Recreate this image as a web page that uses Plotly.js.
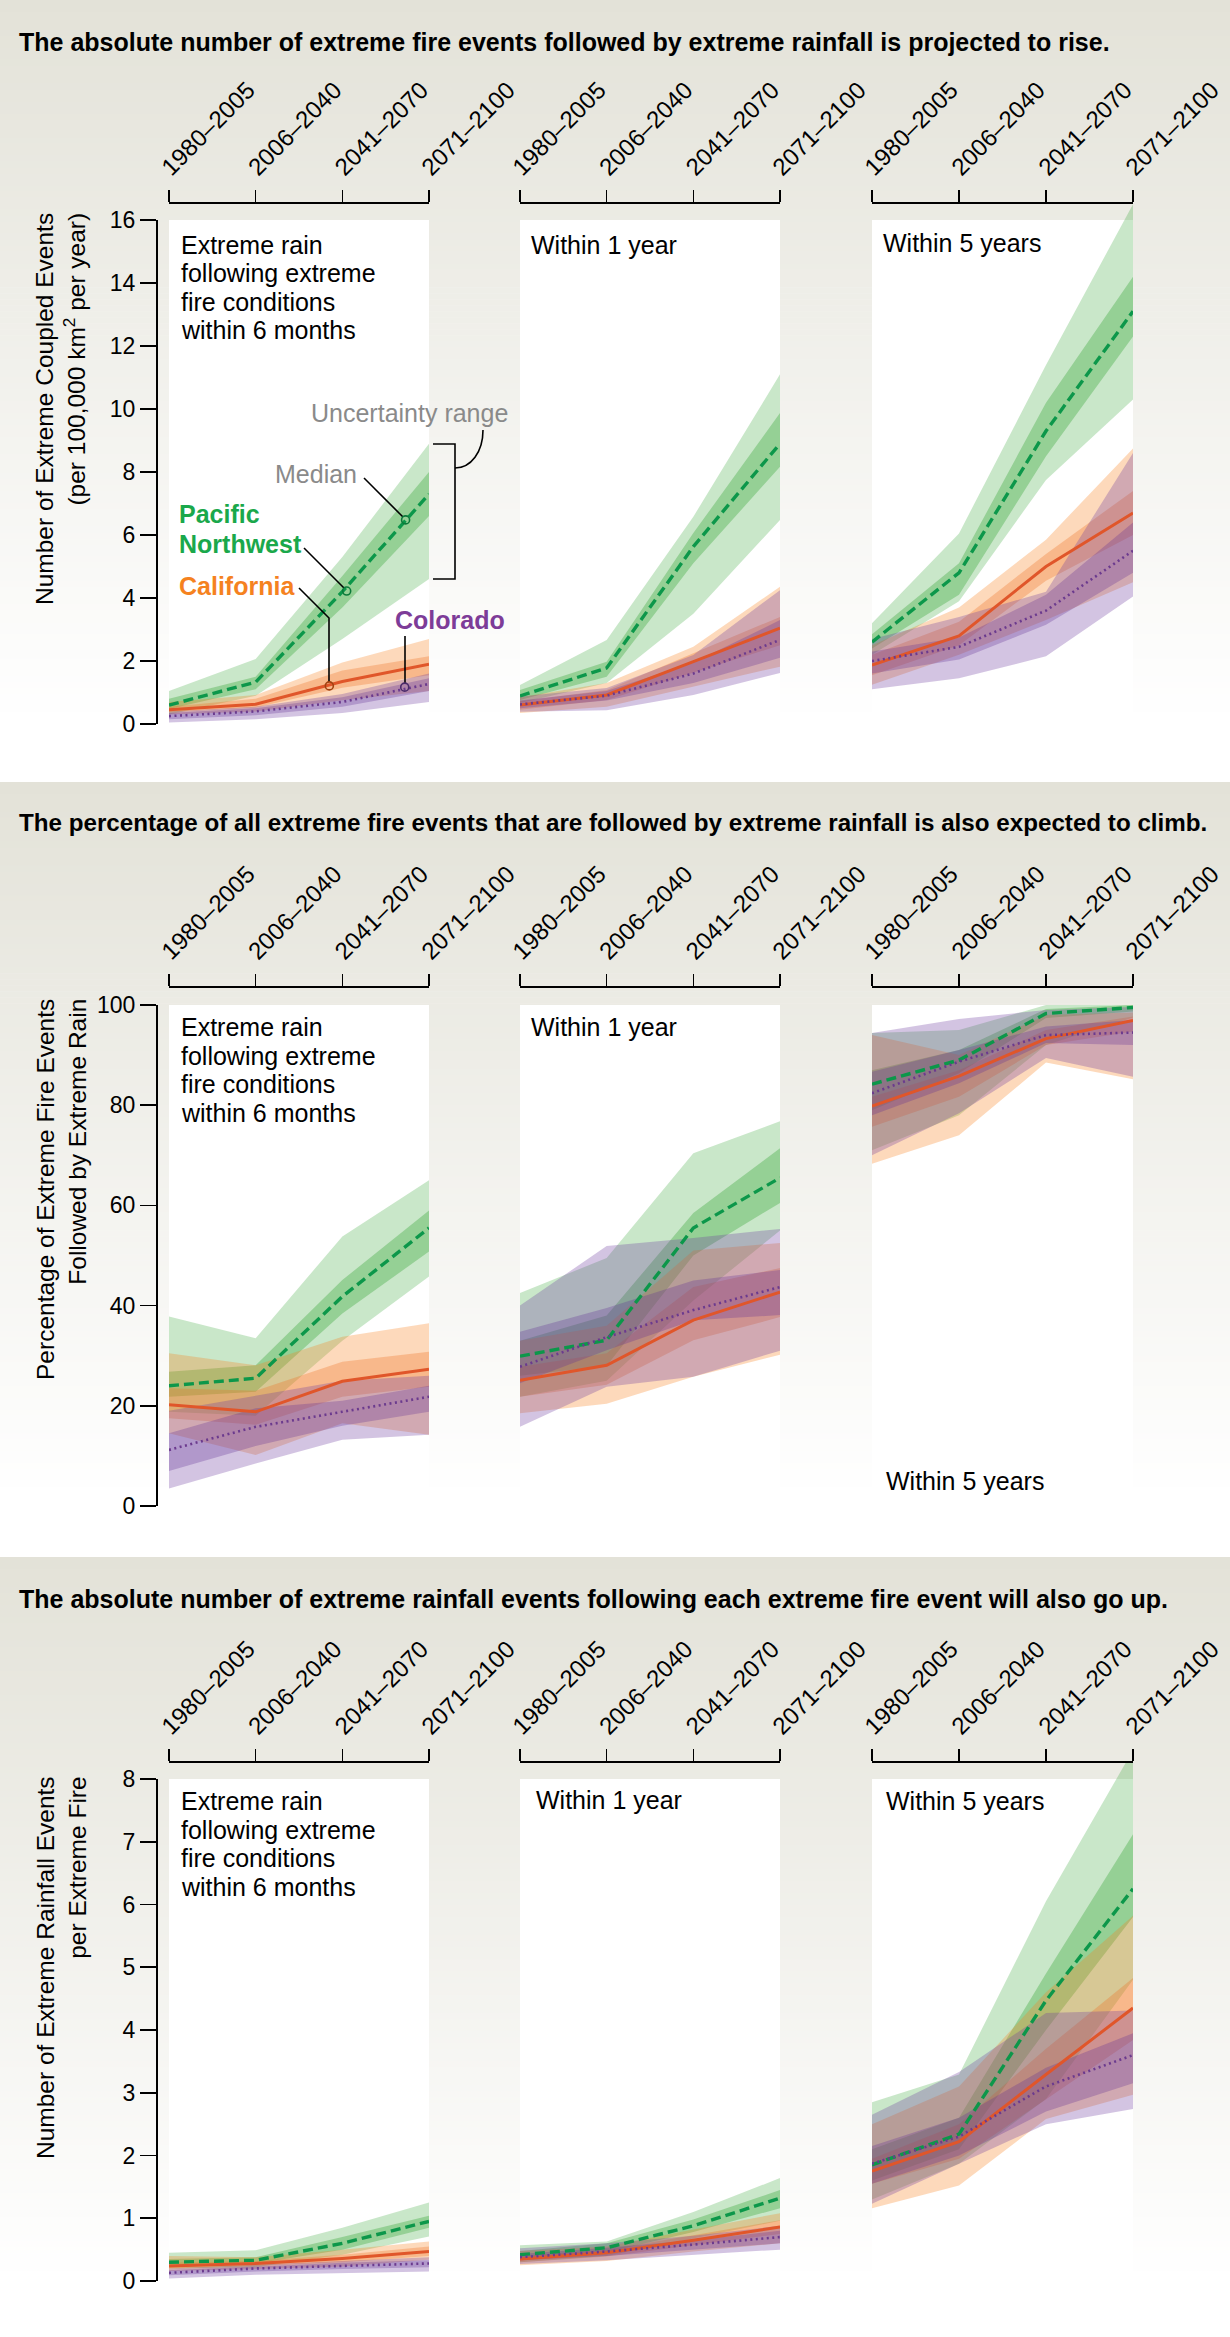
<!DOCTYPE html>
<html><head><meta charset="utf-8">
<script src="https://cdn.plot.ly/plotly-3.0.1.min.js"></script>
<style>html,body{margin:0;padding:0;background:#fff}</style>
</head><body>
<div id="chart" style="width:1230px;height:2337px"></div>
<script>
// ---------------- DATA ----------------
const periods = ['1980–2005', '2006–2040', '2041–2070', '2071–2100'];
const regions = ['pnw', 'ca', 'co'];
const regionNames = {pnw: 'Pacific<br>Northwest', ca: 'California', co: 'Colorado'};
const windows = ['m6', 'y1', 'y5'];
const windowLabels = {
  m6: ['Extreme rain', 'following extreme', 'fire conditions', 'within 6 months'],
  y1: ['Within 1 year'],
  y5: ['Within 5 years']
};
const sectionTitles = [
  'The absolute number of extreme fire events followed by extreme rainfall is projected to rise.',
  'The percentage of all extreme fire events that are followed by extreme rainfall is also expected to climb.',
  'The absolute number of extreme rainfall events following each extreme fire event will also go up.'
];
const yTitles = [
  'Number of Extreme Coupled Events<br>(per 100,000 km<sup>2</sup> per year)',
  'Percentage of Extreme Fire Events<br>Followed by Extreme Rain',
  'Number of Extreme Rainfall Events<br>per Extreme Fire'
];
const yRanges = [[0, 16], [0, 100], [0, 8]];
const yDticks = [2, 20, 1];

// Section 1: coupled events per 100,000 km2 per year (median, inner band, outer band)
const cpl_m6_pnw = {med:[0.6,1.33,4.2,7.3],  inLo:[0.48,1.1,3.7,6.6],  inHi:[0.8,1.5,4.7,8.0],  outLo:[0.3,0.9,2.7,4.6],   outHi:[1.05,2.06,5.3,8.9]};
const cpl_m6_ca  = {med:[0.45,0.63,1.35,1.9], inLo:[0.38,0.52,1.15,1.55], inHi:[0.55,0.8,1.7,2.15], outLo:[0.3,0.4,0.75,1.05], outHi:[0.7,0.92,1.95,2.7]};
const cpl_m6_co  = {med:[0.25,0.4,0.7,1.27], inLo:[0.15,0.28,0.55,1.05], inHi:[0.35,0.5,0.85,1.45], outLo:[0.05,0.15,0.35,0.7], outHi:[0.4,0.55,0.95,1.6]};
const cpl_y1_pnw = {med:[0.89,1.78,5.63,8.9], inLo:[0.76,1.5,5.1,8.17], inHi:[1.08,1.98,6.06,9.87], outLo:[0.67,1.3,3.5,6.48], outHi:[1.24,2.67,6.58,11.1]};
const cpl_y1_ca  = {med:[0.6,0.92,1.98,3.04], inLo:[0.45,0.76,1.62,2.5], inHi:[0.72,1.08,2.25,3.4], outLo:[0.35,0.55,1.18,1.82], outHi:[0.85,1.3,2.45,4.36]};
const cpl_y1_co  = {med:[0.62,0.9,1.6,2.67], inLo:[0.5,0.75,1.3,2.1], inHi:[0.75,1.05,1.95,3.3], outLo:[0.39,0.44,0.92,1.62], outHi:[0.87,1.14,2.19,4.25]};
const cpl_y5_pnw = {med:[2.6,4.8,9.3,13.1], inLo:[2.4,4.1,8.5,12.3], inHi:[2.85,5.1,10.2,14.2], outLo:[2.2,3.9,7.75,10.3], outHi:[3.2,6.05,11.4,16.5]};
const cpl_y5_ca  = {med:[1.87,2.8,5.0,6.7], inLo:[1.55,2.5,4.55,6.0], inHi:[2.2,3.25,5.4,7.4], outLo:[1.25,2.2,3.3,4.5], outHi:[2.5,3.7,5.85,8.75]};
const cpl_y5_co  = {med:[2.0,2.45,3.6,5.5], inLo:[1.6,2.05,3.15,4.8], inHi:[2.3,2.75,4.1,6.4], outLo:[1.1,1.45,2.15,4.05], outHi:[2.7,3.4,4.2,8.6]};

// Section 2: percentage of extreme fire events followed by extreme rain
const pct_m6_pnw = {med:[24,25.5,41.8,55.5], inLo:[21.8,22.8,38.4,50.8], inHi:[26.8,28.1,45.1,59], outLo:[18.8,18,33,45.8], outHi:[37.8,33.5,53.8,65]};
const pct_m6_ca  = {med:[20.2,18.8,24.9,27.3], inLo:[17.5,16.2,21.8,23.8], inHi:[23.5,23,28.8,30.8], outLo:[14.5,10.2,16.5,14.2], outHi:[30.5,28.1,33.8,36.5]};
const pct_m6_co  = {med:[11.2,15.8,18.8,21.8], inLo:[7,12,16,18.8], inHi:[14.5,19.5,21,24], outLo:[3.5,8.5,13.2,14.2], outHi:[19,22,25,26]};
const pct_y1_pnw = {med:[29.9,33.1,55.5,65.5], inLo:[26,28,50,60.5], inHi:[33,38,58.5,71.4], outLo:[21.8,25,41,55], outHi:[42.5,49.5,70.4,76.8]};
const pct_y1_ca  = {med:[25.1,28.1,37.1,42.7], inLo:[21.8,24.2,33.1,37.7], inHi:[27.8,30.5,43.7,47.5], outLo:[18.5,20.4,25.8,30.2], outHi:[33,36,51,52.5]};
const pct_y1_co  = {med:[27.8,33.7,39.1,43.7], inLo:[24.5,31.1,37.1,38.1], inHi:[34.8,39.5,45,47.1], outLo:[15.8,23.8,25.8,31], outHi:[40,51.9,53.5,55.3]};
const pct_y5_pnw = {med:[84.2,89,98.3,99.5], inLo:[79,86.4,97.4,98.7], inHi:[87,91,99.2,100], outLo:[71,78,92,97.5], outHi:[94.4,95,100,100]};
const pct_y5_ca  = {med:[79.8,85.8,93.3,96.9], inLo:[75.7,81.7,92,94.7], inHi:[81.7,87,95,97.7], outLo:[68.3,74,88.5,85.2], outHi:[94,90,98,98.5]};
const pct_y5_co  = {med:[82.4,88.7,94,94.5], inLo:[78,84.4,92.4,92], inHi:[86.7,91,95.7,97], outLo:[70,78.4,89.4,85.7], outHi:[94.4,97.2,99,99.6]};

// Section 3: extreme rainfall events per extreme fire
const per_m6_pnw = {med:[0.3,0.33,0.6,0.95], inLo:[0.24,0.28,0.5,0.85], inHi:[0.35,0.38,0.7,1.04], outLo:[0.2,0.22,0.42,0.71], outHi:[0.45,0.49,0.85,1.25]};
const per_m6_ca  = {med:[0.24,0.28,0.36,0.47], inLo:[0.2,0.24,0.3,0.4], inHi:[0.29,0.32,0.42,0.55], outLo:[0.16,0.19,0.23,0.34], outHi:[0.4,0.38,0.5,0.63]};
const per_m6_co  = {med:[0.13,0.2,0.24,0.28], inLo:[0.09,0.15,0.19,0.22], inHi:[0.17,0.23,0.29,0.33], outLo:[0.04,0.1,0.12,0.15], outHi:[0.2,0.26,0.32,0.38]};
const per_y1_pnw = {med:[0.42,0.53,0.88,1.32], inLo:[0.36,0.46,0.78,1.16], inHi:[0.48,0.6,0.98,1.45], outLo:[0.3,0.4,0.68,0.96], outHi:[0.57,0.63,1.1,1.64]};
const per_y1_ca  = {med:[0.35,0.45,0.65,0.86], inLo:[0.3,0.39,0.57,0.75], inHi:[0.4,0.5,0.73,0.97], outLo:[0.25,0.32,0.47,0.6], outHi:[0.48,0.55,0.82,1.08]};
const per_y1_co  = {med:[0.38,0.47,0.58,0.7], inLo:[0.33,0.4,0.5,0.6], inHi:[0.43,0.53,0.65,0.8], outLo:[0.27,0.33,0.42,0.5], outHi:[0.52,0.6,0.72,0.88]};
const per_y5_pnw = {med:[1.85,2.34,4.47,6.25], inLo:[1.6,2.1,4.0,5.8], inHi:[2.1,2.6,4.9,7.12], outLo:[1.3,1.87,2.9,4.8], outHi:[2.85,3.29,6.05,8.46]};
const per_y5_ca  = {med:[1.75,2.22,3.29,4.35], inLo:[1.55,1.95,2.9,3.84], inHi:[1.95,2.5,3.7,4.83], outLo:[1.16,1.52,2.58,2.97], outHi:[2.5,3.1,4.6,5.82]};
const per_y5_co  = {med:[1.87,2.3,3.1,3.6], inLo:[1.55,2.0,2.7,3.15], inHi:[2.15,2.6,3.4,3.95], outLo:[1.23,1.87,2.5,2.74], outHi:[2.65,3.33,4.27,4.31]};

// Callout anchor points on the top-left panel (category index, value)
const calloutPoints = {median: [2.73, 6.48], pnw: [2.05, 4.22], ca: [1.85, 1.21], co: [2.72, 1.17]};

const DATA = [
  {m6:{pnw:cpl_m6_pnw, ca:cpl_m6_ca, co:cpl_m6_co}, y1:{pnw:cpl_y1_pnw, ca:cpl_y1_ca, co:cpl_y1_co}, y5:{pnw:cpl_y5_pnw, ca:cpl_y5_ca, co:cpl_y5_co}},
  {m6:{pnw:pct_m6_pnw, ca:pct_m6_ca, co:pct_m6_co}, y1:{pnw:pct_y1_pnw, ca:pct_y1_ca, co:pct_y1_co}, y5:{pnw:pct_y5_pnw, ca:pct_y5_ca, co:pct_y5_co}},
  {m6:{pnw:per_m6_pnw, ca:per_m6_ca, co:per_m6_co}, y1:{pnw:per_y1_pnw, ca:per_y1_ca, co:per_y1_co}, y5:{pnw:per_y5_pnw, ca:per_y5_ca, co:per_y5_co}}
];

// ---------------- LAYOUT / STYLE ----------------
const W = 1230, H = 2337;
const FONT = 'Liberation Sans, Arial, Helvetica, sans-serif';
const fx = px => px / W;
const fy = py => 1 - py / H;
const P = (px, py) => fx(px) + ',' + fy(py);

const sec = [
  {titleY: 42,   titleSize: 25,   bandTop: 0,    bandBot: 778,  axisY: 202,  top: 220,  bottom: 724,  ytY: 409,  ytX: 61},
  {titleY: 823,  titleSize: 24.2, bandTop: 782,  bandBot: 1553, axisY: 986,  top: 1005, bottom: 1506, ytY: 1190, ytX: 61},
  {titleY: 1599, titleSize: 25,   bandTop: 1557, bandBot: 2337, axisY: 1761, top: 1779, bottom: 2281, ytY: 1968, ytX: 61}
];
const panelX = [[169, 429], [520, 780], [872, 1133]];
const yAxisX = 156;
const panelTextPos = [
  [{x: 179, ys: [245, 273, 302, 330]}, {x: 529, ys: [245]}, {x: 881, ys: [243]}],
  [{x: 179, ys: [1027, 1056, 1084, 1113]}, {x: 529, ys: [1027]}, {x: 884, ys: [1481]}],
  [{x: 179, ys: [1801, 1830, 1858, 1887]}, {x: 534, ys: [1800]}, {x: 884, ys: [1801]}]
];

const style = {
  pnw: {outer: 'rgba(40,160,40,0.25)', inner: 'rgba(40,160,40,0.32)', line: '#0c974a', dash: '10px,5px', width: 3.4, label: '#1aa84b'},
  ca:  {outer: 'rgba(250,130,30,0.3)', inner: 'rgba(240,110,30,0.3)', line: '#e0562a', dash: 'solid', width: 3, label: '#f5821f'},
  co:  {outer: 'rgba(110,60,160,0.3)', inner: 'rgba(100,50,150,0.3)', line: '#6b3a8e', dash: '2px,3.5px', width: 2.6, label: '#7d3c98'}
};

const traces = [];
const layout = {
  width: W, height: H,
  margin: {l: 0, r: 0, t: 0, b: 0},
  paper_bgcolor: '#ffffff',
  plot_bgcolor: 'rgba(0,0,0,0)',
  showlegend: false,
  font: {family: FONT, color: '#000'},
  shapes: [],
  annotations: []
};

// background gradient bands
const c0 = [227, 226, 216];
sec.forEach(s => {
  const h = s.bandBot - s.bandTop;
  const n = Math.ceil(h / 6);
  for (let i = 0; i < n; i++) {
    const y0 = s.bandTop + i * h / n, y1 = s.bandTop + (i + 1) * h / n + 0.6;
    const t = Math.min(1, ((i + 0.5) / n) / 0.93);
    const c = c0.map(v => Math.round(v + (255 - v) * t));
    layout.shapes.push({type: 'rect', xref: 'paper', yref: 'paper', layer: 'below',
      x0: 0, x1: 1, y0: fy(Math.min(y1, s.bandBot)), y1: fy(y0),
      fillcolor: 'rgb(' + c.join(',') + ')', line: {width: 0}});
  }
});

sec.forEach((s, si) => {
  const [ymin, ymax] = yRanges[si];
  const pxPerUnit = (s.bottom - s.top) / (ymax - ymin);
  windows.forEach((w, pi) => {
    const idx = si * 3 + pi + 1;
    const xa = idx === 1 ? 'x' : 'x' + idx;
    const ya = idx === 1 ? 'y' : 'y' + idx;
    const [x0, x1] = panelX[pi];
    // white panel
    layout.shapes.push({type: 'rect', xref: 'paper', yref: 'paper', layer: 'below',
      x0: fx(x0), x1: fx(x1), y0: fy(s.bottom + 6), y1: fy(s.top), fillcolor: '#ffffff', line: {width: 0}});
    layout['xaxis' + (idx === 1 ? '' : idx)] = {
      domain: [fx(x0), fx(x1)], anchor: 'free', position: fy(s.axisY), side: 'top',
      type: 'category', categoryorder: 'array', categoryarray: periods, range: [0, 3],
      showline: true, linecolor: '#000', linewidth: 1.6, ticks: 'outside', ticklen: 12, tickwidth: 1.6, tickcolor: '#000',
      tickangle: -45, tickfont: {size: 24, color: '#000', family: FONT}, ticklabelshift: -6,
      showgrid: false, zeroline: false, fixedrange: true
    };
    if (pi === 0) {
      layout['yaxis' + (idx === 1 ? '' : idx)] = {
        domain: [fy(s.bottom), fy(s.top)], anchor: 'free', position: fx(yAxisX), range: [ymin, ymax],
        showline: true, linecolor: '#000', linewidth: 1.6, ticks: 'outside', ticklen: 16, tickwidth: 1.6, tickcolor: '#000',
        tick0: 0, dtick: yDticks[si], tickfont: {size: 23, color: '#000', family: FONT},
        showgrid: false, zeroline: false, fixedrange: true
      };
    } else {
      const ext = ymax + (s.top - s.axisY) / pxPerUnit;
      layout['yaxis' + idx] = {
        domain: [fy(s.bottom), fy(s.axisY)], anchor: xa, range: [ymin, ext],
        visible: false, showgrid: false, zeroline: false, fixedrange: true
      };
    }
    const xs = periods.concat(periods.slice().reverse());
    regions.forEach(r => {
      const d = DATA[si][w][r];
      [['outLo', 'outHi', 'outer'], ['inLo', 'inHi', 'inner']].forEach(([lo, hi, key]) => {
        traces.push({type: 'scatter', mode: 'lines', x: xs, y: d[hi].concat(d[lo].slice().reverse()),
          fill: 'toself', fillcolor: style[r][key], line: {width: 0, color: 'rgba(0,0,0,0)'},
          hoverinfo: 'skip', xaxis: xa, yaxis: ya, showlegend: false});
      });
    });
    regions.forEach(r => {
      const d = DATA[si][w][r];
      traces.push({type: 'scatter', mode: 'lines', x: periods, y: d.med,
        line: {color: style[r].line, width: style[r].width, dash: style[r].dash},
        hoverinfo: 'skip', xaxis: xa, yaxis: ya, showlegend: false});
    });
    // panel text
    const pt = panelTextPos[si][pi];
    windowLabels[w].forEach((txt, li) => {
      layout.annotations.push({xref: 'paper', yref: 'paper', x: fx(pt.x), y: fy(pt.ys[li]),
        xanchor: 'left', yanchor: 'middle', showarrow: false, text: txt,
        font: {size: 25, color: '#000', family: FONT}});
    });
  });
  // section title
  layout.annotations.push({xref: 'paper', yref: 'paper', x: fx(17), y: fy(s.titleY), xanchor: 'left', yanchor: 'middle',
    showarrow: false, text: sectionTitles[si], font: {size: s.titleSize, color: '#000', family: FONT, weight: 'bold'}});
  // y title
  layout.annotations.push({xref: 'paper', yref: 'paper', x: fx(s.ytX), y: fy(s.ytY), xanchor: 'center', yanchor: 'middle',
    showarrow: false, textangle: -90, align: 'right', text: yTitles[si], font: {size: 24.5, color: '#000', family: FONT}});
});

// ---------- callouts on first panel ----------
const grey = '#8a8a8a';
const lineShape = (pts) => ({type: 'path', xref: 'paper', yref: 'paper',
  path: 'M' + pts.map(p => P(p[0], p[1])).join(' L'), line: {color: '#000', width: 1.6}});
layout.shapes.push(lineShape([[433, 444], [455, 444], [455, 579], [433, 579]]));
layout.shapes.push({type: 'path', xref: 'paper', yref: 'paper',
  path: 'M' + P(455, 468) + ' C' + P(471, 468) + ' ' + P(483, 452) + ' ' + P(483, 430), line: {color: '#000', width: 1.6}});
layout.shapes.push(lineShape([[364, 478], [403, 517]]));
layout.shapes.push(lineShape([[304, 548], [344, 588]]));
layout.shapes.push(lineShape([[299, 588], [329, 618], [329, 682]]));
layout.shapes.push(lineShape([[405, 636], [405, 683]]));
const circColor = {median: '#0c7a3a', pnw: '#0c7a3a', ca: '#a04010', co: '#4a2a6a'};
Object.keys(calloutPoints).forEach(k => {
  const [cx, cy] = calloutPoints[k];
  layout.shapes.push({type: 'circle', xref: 'x', yref: 'y', xsizemode: 'pixel', ysizemode: 'pixel',
    xanchor: cx, yanchor: cy, x0: -4, x1: 4, y0: -4, y1: 4,
    line: {color: circColor[k], width: 1.6}, fillcolor: 'rgba(255,255,255,0)'});
});
const addLabel = (txt, px, py, color, bold, anchor) => layout.annotations.push({
  xref: 'paper', yref: 'paper', x: fx(px), y: fy(py), xanchor: anchor || 'left', yanchor: 'middle', showarrow: false,
  text: txt, align: 'left', font: {size: 25, color: color, family: FONT, weight: bold ? 'bold' : 'normal'}});
addLabel('Uncertainty range', 309, 413, grey, false);
addLabel('Median', 359, 474, grey, false, 'right');
addLabel('Pacific', 177, 514, style.pnw.label, true);
addLabel('Northwest', 177, 544, style.pnw.label, true);
addLabel(regionNames.ca, 177, 586, style.ca.label, true);
addLabel(regionNames.co, 393, 620, style.co.label, true);

Plotly.newPlot('chart', traces, layout, {staticPlot: true, displayModeBar: false});
</script>
</body></html>
